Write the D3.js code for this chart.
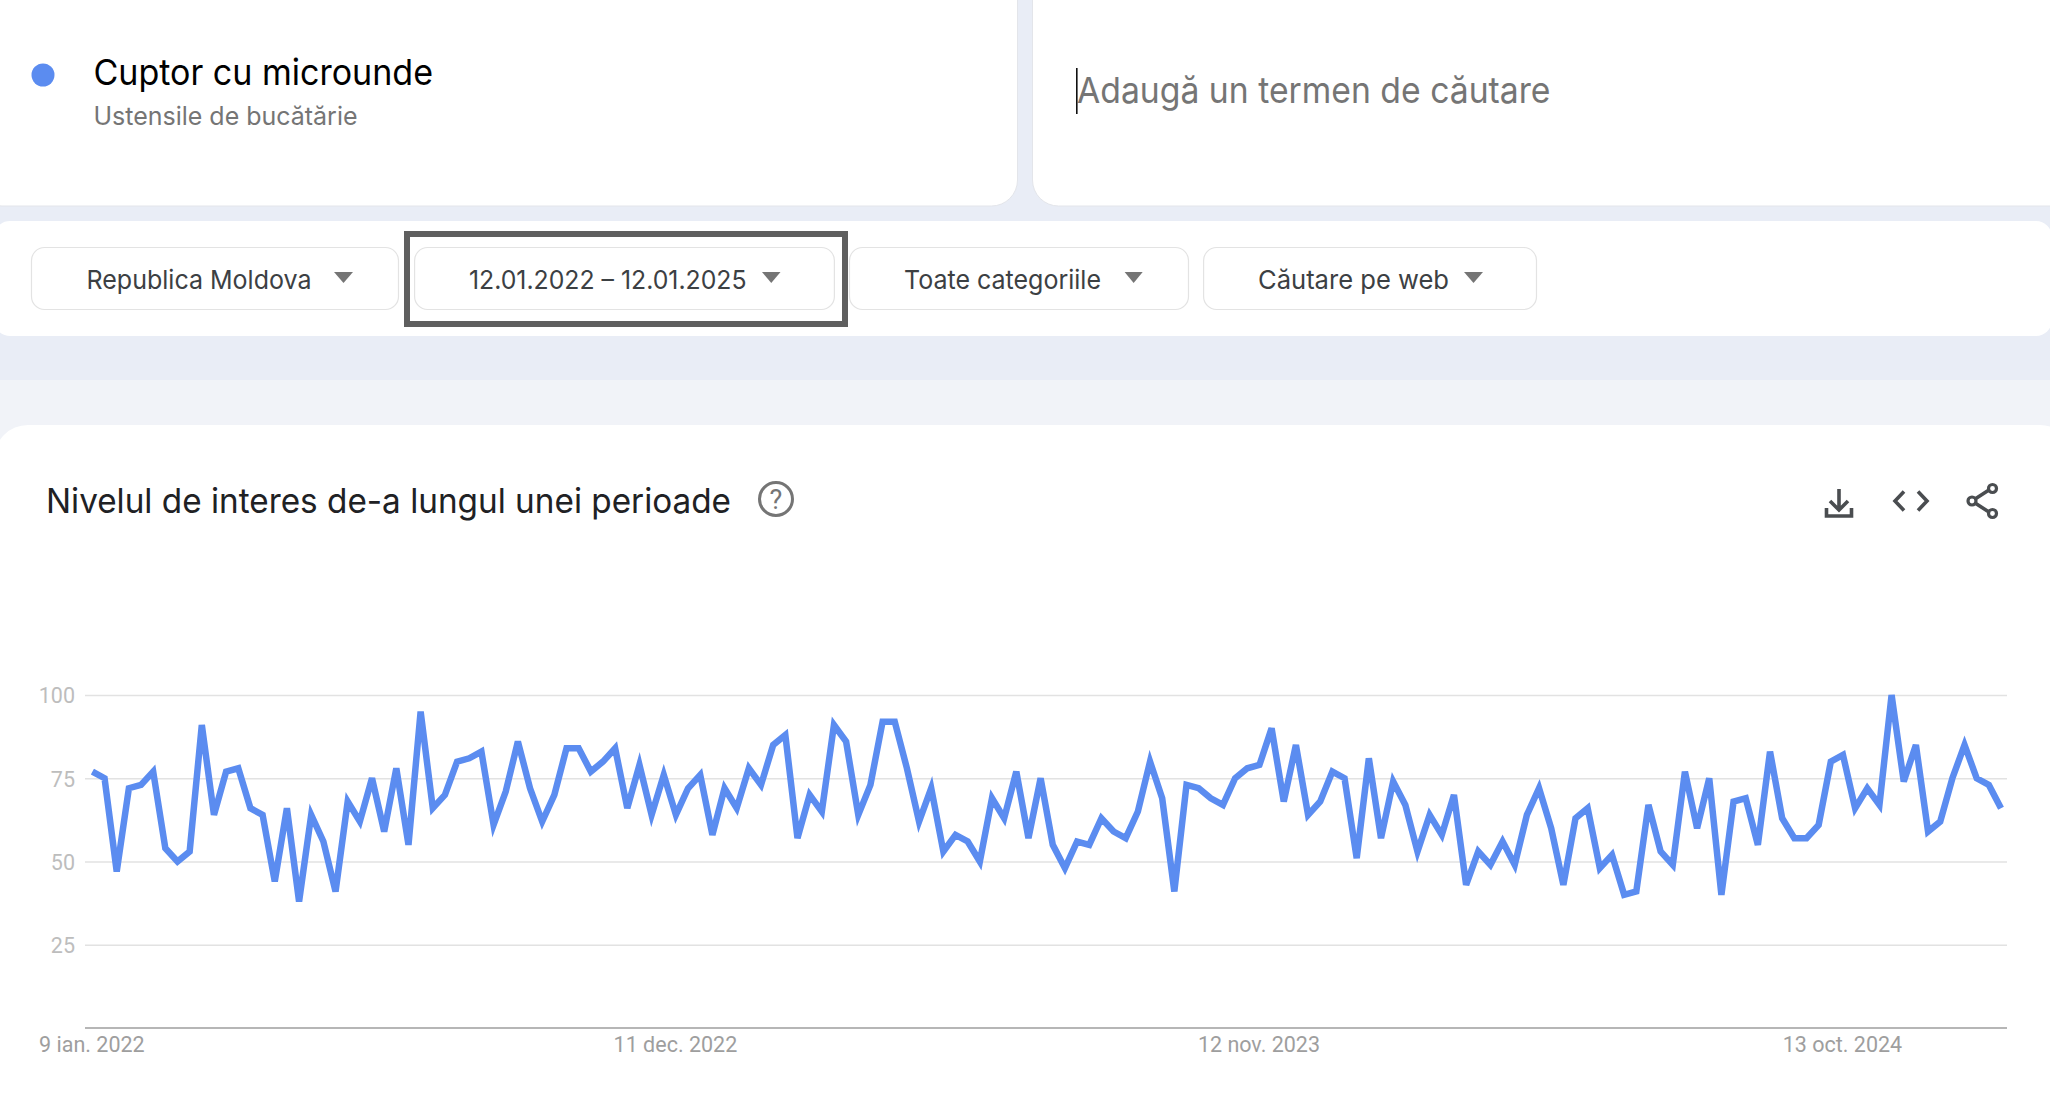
<!DOCTYPE html>
<html lang="ro"><head><meta charset="utf-8">
<script src="https://cdnjs.cloudflare.com/ajax/libs/d3/7.9.0/d3.min.js"></script>
<style>html,body{margin:0;padding:0;background:#e9edf6;overflow:hidden}svg{display:block}</style>
</head><body><svg id="c" width="2050" height="1106"></svg>
<script>
const interestA=[77,75,47,72,73,77,54,50,53,91,64,77,78,66,64,44,66,38,64,56,41,68,62,75,59,78,55,95,66,70,80,81,83,61,71,86,72,62,70,84,84,77,80,84,66,79,64,76,64];
const interestB=[72,76,58,72,66,78,73,85,88,57,70,65,91,86,64,73,92,92,78,62,72,53,58,56,50,69,63,77,57,75,55,48,56,55,63,59,57,65,80,69,41,73,72,69,67,75,78,79,90,68,85,64,68,77,75,51,81];
const interestC=[57,74,67,53,64,58,70,43,53,49,56,49,64,72,60,43,63,66,48,52,40,41,67,53,49,77,60,75,40,68,69,55,83,63,57,57,61,80,82,66,72,67,100,74,85,59,62,75,85,75,73,66];
const values=[...interestA,...interestB,...interestC];
const yTicks=[25,50,75,100];
const xTickIndex=[0,48,96,144];
const xTickLabels=["9 ian. 2022","11 dec. 2022","12 nov. 2023","13 oct. 2024"];
const chipLabels=["Republica Moldova","12.01.2022 – 12.01.2025","Toate categoriile","Căutare pe web"];
const term="Cuptor cu microunde", termCategory="Ustensile de bucătărie", placeholder="Adaugă un termen de căutare", chartTitle="Nivelul de interes de-a lungul unei perioade";

const BLUE="#5b8cf0", UI="Inter,sans-serif";
const svg=d3.select("#c");
svg.append("rect").attr("x",0).attr("y",380).attr("width",2050).attr("height",726).attr("fill","#f1f3f8");
const card=(x,y,w,h,r)=>svg.append("rect").attr("x",x).attr("y",y).attr("width",w).attr("height",h).attr("rx",r).attr("fill","#fff");
card(-24,-40,1041.5,246,26).attr("stroke","#e3e5ea").attr("stroke-width",1);
card(1032.5,-40,1045,246,26).attr("stroke","#e3e5ea").attr("stroke-width",1);
card(-6,221,2058,115,16);
card(-6,425,2080,720,34);

const txt=(s,x,y,size,fill,w,fam=UI)=>{const t=svg.append("text").attr("x",x).attr("y",y).attr("font-size",size).attr("fill",fill).attr("font-family",fam).attr("font-weight",400).text(s);
  if(w)t.attr("textLength",w).attr("lengthAdjust","spacingAndGlyphs");return t;};

svg.append("circle").attr("cx",43).attr("cy",75).attr("r",11.5).attr("fill",BLUE);
txt(term,93.5,85,36,"#000",339.5);
txt(termCategory,93.5,125,25.5,"#757575",264);
txt(placeholder,1077,103,36,"#757575",473.5);
svg.append("rect").attr("x",1076).attr("y",68).attr("width",1.6).attr("height",46).attr("fill","#111");

const chips=[[31.5,398.5,86.5,225,334,353],[414.6,834.4,469,277.5,762,780.5],[849.5,1188.5,904,197,1124.6,1142.7],[1203.6,1536.5,1258,191,1464,1483]];
chips.forEach((c,i)=>{
  svg.append("rect").attr("x",c[0]).attr("y",247.5).attr("width",c[1]-c[0]).attr("height",62).attr("rx",13).attr("fill","#fff").attr("stroke","#e3e3e3").attr("stroke-width",1.2);
  txt(chipLabels[i],c[2],289,26,"#3c4043",c[3]);
  svg.append("path").attr("d",`M${c[4]} 272H${c[5]}L${(c[4]+c[5])/2} 283Z`).attr("fill","#757575");
});
svg.append("rect").attr("x",407).attr("y",234).attr("width",438).attr("height",90).attr("fill","none").attr("stroke","#5f5f5f").attr("stroke-width",6);

txt(chartTitle,46,513,34,"#202124",685);
svg.append("circle").attr("cx",776).attr("cy",499).attr("r",16.5).attr("fill","none").attr("stroke","#757575").attr("stroke-width",3);
txt("?",776,509,27,"#757575",null,"Roboto,sans-serif").attr("text-anchor","middle");

const ic="#4a4d50";
const stroke=(d,w=3.6)=>svg.append("path").attr("d",d).attr("fill","none").attr("stroke",ic).attr("stroke-width",w);
stroke("M1839 489V510M1830 501L1839 510L1848 501");
stroke("M1826.5 508V516H1851.5V508");
stroke("M1904 491.5L1895 501L1904 510.5M1918 491.5L1927 501L1918 510.5");
stroke("M1992 488L1972 501L1992 514");
[[1992.5,488.5],[1972,501],[1992.5,513.5]].forEach(p=>svg.append("circle").attr("cx",p[0]).attr("cy",p[1]).attr("r",4).attr("fill","#fff").attr("stroke",ic).attr("stroke-width",3.2));

const x=d3.scaleLinear().domain([0,values.length-1]).range([92.4,2001]);
const y=d3.scaleLinear().domain([0,100]).range([1028,695]);
const left=85,right=2007;
const yAxis=svg.append("g").attr("transform",`translate(${left},0)`).call(d3.axisLeft(y).tickValues(yTicks).tickSize(-(right-left)).tickPadding(10));
yAxis.select(".domain").remove();
yAxis.selectAll("line").attr("stroke","#e2e2e2").attr("stroke-width",1.5);
yAxis.selectAll("text").attr("fill","#bdbdbd").attr("font-size",21.5).attr("font-family","Roboto,sans-serif").attr("y",1);
const xAxis=svg.append("g").attr("transform","translate(0,1028)").call(d3.axisBottom(x).tickValues(xTickIndex).tickFormat((d,i)=>xTickLabels[i]).tickSize(0).tickPadding(9));
xAxis.select(".domain").attr("d",`M${left} 0H${right}`).attr("stroke","#9e9e9e").attr("stroke-width",1.5);
xAxis.selectAll("text").attr("fill","#9e9e9e").attr("font-size",21.5).attr("font-family","Roboto,sans-serif").attr("x",-1);

svg.append("path").datum(values).attr("fill","none").attr("stroke",BLUE).attr("stroke-width",6.5)
  .attr("d",d3.line().x((d,i)=>x(i)).y(d=>y(d)));
</script></body></html>
